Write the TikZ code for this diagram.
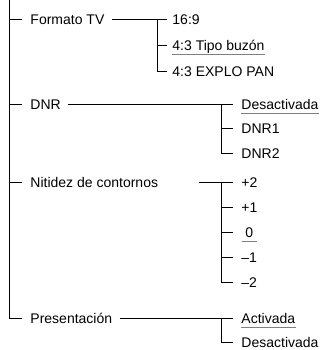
\documentclass[tikz,border=0pt]{standalone}
\usepackage{fontspec}
\setmainfont{Liberation Sans}
\tikzset{
  item/.style={anchor=west, inner sep=0pt, text height=10bp, text depth=0pt,
    font=\fontsize{14bp}{16bp}\selectfont},
  uline/.style={draw=gray, line width=0.8bp}
}
\begin{document}
\begin{tikzpicture}[x=1bp,y=-1bp,line width=0.9bp]
\useasboundingbox (0,0) rectangle (324,350);
% main entries
\coordinate (top) at (9,0);
\node[item] (fmt) at (30,19) {Formato TV};
\node[item] (dnr) at (30,104) {DNR};
\node[item] (nit) at (30,182) {Nitidez de contornos};
\node[item] (pre) at (30,318) {Presentación};
\draw[shorten >=8bp] (top) |- (pre.west);
\foreach \m in {fmt,dnr,nit}{
  \draw[shorten >=8bp] (top |- \m.west) -- (\m.west);
}
% junctions
\coordinate (fmtj) at (157,19);
\coordinate (dnrj) at (221,104);
\coordinate (nitj) at (221,182);
\coordinate (nits) at (199,182);
\coordinate (prej) at (221,318);
\draw[shorten <=7bp] (fmt.east) -- (fmtj);
\draw[shorten <=7bp] (dnr.east) -- (dnrj);
\draw (nits) -- (nitj);
\draw[shorten <=7bp] (pre.east) -- (prej);
% sub entries
\foreach \nm/\y/\lab in {f1/19/{16:9},f2/45/{4:3 Tipo buzón},f3/71/{4:3 EXPLO PAN}}{
  \node[item] (\nm) at (172,\y) {\lab};
  \draw[shorten >=5bp] (fmtj) |- (\nm.west);
}
\foreach \nm/\y/\lab in {d1/104/{Desactivada},d2/128/{DNR1},d3/153/{DNR2}}{
  \node[item] (\nm) at (241,\y) {\lab};
  \draw[shorten >=8bp] (dnrj) |- (\nm.west);
}
\foreach \nm/\y/\lab in {n1/182/{+2},n2/207/{+1},n4/257/{–1},n5/282/{–2}}{
  \node[item] (\nm) at (241,\y) {\lab};
  \draw[shorten >=8bp] (nitj) |- (\nm.west);
}
\node[item] (n3) at (245,232) {0};
\draw[shorten >=12bp] (nitj) |- (n3.west);
\foreach \nm/\y/\lab in {p1/318/{Activada},p2/342/{Desactivada}}{
  \node[item] (\nm) at (241,\y) {\lab};
  \draw[shorten >=8bp] (prej) |- (\nm.west);
}
% underlined defaults
\foreach \nm in {f2,d1,p1}{
  \draw[uline] ([yshift=-3.5bp]\nm.south west) -- ([yshift=-3.5bp]\nm.south east);
}
\draw[uline] ([yshift=-3.5bp,xshift=-3bp]n3.south west) -- ([yshift=-3.5bp,xshift=3bp]n3.south east);
\end{tikzpicture}
\end{document}
